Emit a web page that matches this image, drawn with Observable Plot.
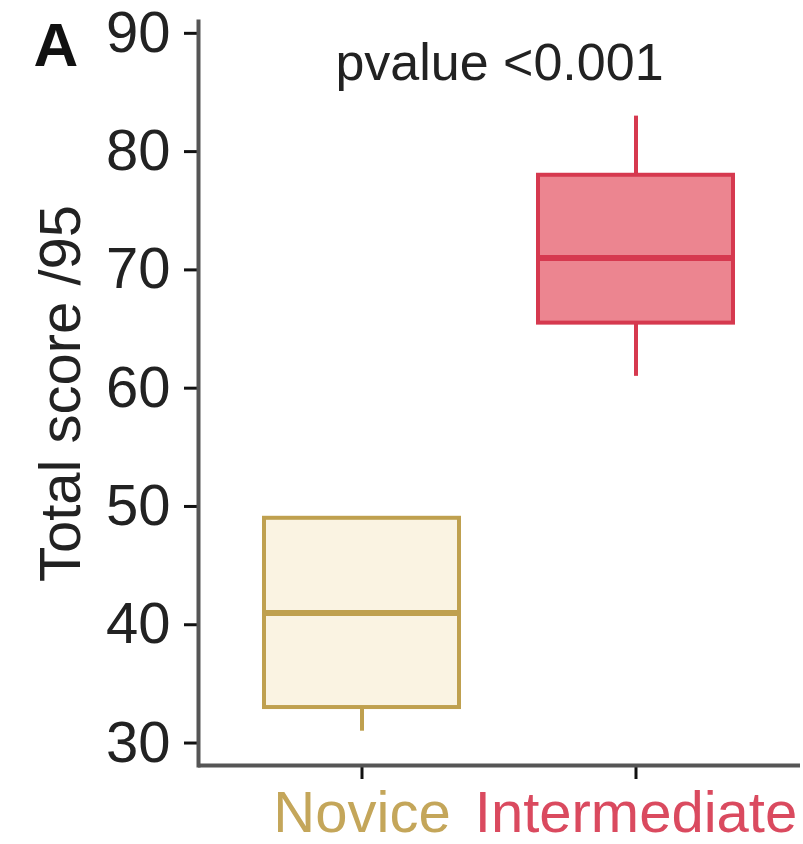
<!DOCTYPE html>
<html>
<head>
<meta charset="utf-8">
<script src="https://cdn.jsdelivr.net/npm/d3@7"></script>
<script src="https://cdn.jsdelivr.net/npm/@observablehq/plot@0.6"></script>
<style>
  html, body { margin: 0; padding: 0; background: #fff; }
</style>
</head>
<body>
<div id="chart"></div>
<script>
// ---- data ----
const groups = ["Novice", "Intermediate"];
const whiskerLow = [31, 61];
const q1 = [33, 65.5];
const medians = [41, 71];
const q3 = [49, 78];
const whiskerHigh = [49, 83];
const strokeColors = ["#BFA04F", "#D6394F"];
const fillColors = ["#FAF3E2", "#EC8590"];
const labelColors = ["#C4A65A", "#DA4A5F"];
const yTicks = [30, 40, 50, 60, 70, 80, 90];
const yDomain = [28.1, 91.0];
const titleText = "pvalue <0.001";
const yLabel = "Total score /95";
const panelTag = "A";

const rows = groups.map((g, i) => ({
  group: g, lo: whiskerLow[i], q1: q1[i], med: medians[i], q3: q3[i], hi: whiskerHigh[i],
  stroke: strokeColors[i], fill: fillColors[i], label: labelColors[i]
}));

const font = "'Liberation Sans', Arial, Helvetica, sans-serif";

const chart = Plot.plot({
  width: 803,
  height: 844,
  marginLeft: 198,
  marginRight: 3,
  marginTop: 21,
  marginBottom: 79,
  style: { fontFamily: font, fontSize: "58px", color: "#222", background: "#fff" },
  x: { type: "band", domain: groups, paddingInner: 0.288, paddingOuter: 0.2425, axis: null },
  y: { domain: yDomain, axis: null },
  marks: [
    // whiskers
    Plot.ruleX(rows, { x: "group", y1: "lo", y2: "q1", stroke: "stroke", strokeWidth: 4 }),
    Plot.ruleX(rows.filter(d => d.hi > d.q3), { x: "group", y1: "q3", y2: "hi", stroke: "stroke", strokeWidth: 4 }),
    // boxes
    Plot.barY(rows, { x: "group", y1: "q1", y2: "q3", fill: "fill", stroke: "stroke", strokeWidth: 4 }),
    // medians
    Plot.tickY(rows, { x: "group", y: "med", stroke: "stroke", strokeWidth: 6 }),
    // axes
    Plot.axisY({ ticks: yTicks, tickSize: 14, tickPadding: 14, stroke: "#111", strokeWidth: 3, fill: "#222", fontSize: 58, label: null }),
    Plot.axisX({ tickSize: 14, tickFormat: () => "", stroke: "#111", strokeWidth: 3, label: null }),
    Plot.ruleY([yDomain[0]], { stroke: "#555", strokeWidth: 4 }),
    Plot.frame({ anchor: "left", stroke: "#555", strokeWidth: 4 }),
    // x tick labels, coloured by group
    Plot.text(rows, { x: "group", text: "group", frameAnchor: "bottom", lineAnchor: "middle", dy: 48, fill: "label", fontSize: 58 }),
    // y axis title
    Plot.text([yLabel], { frameAnchor: "left", textAnchor: "middle", lineAnchor: "middle", dx: -137, rotate: -90, fontSize: 58, fill: "#222" }),
    // p-value title
    Plot.text([titleText], { frameAnchor: "top", lineAnchor: "middle", dy: 42, fontSize: 52, fill: "#222" }),
    // panel tag
    Plot.text([panelTag], { frameAnchor: "top-left", textAnchor: "start", lineAnchor: "middle", dx: -165, dy: 25, fontSize: 62, fontWeight: "bold", fill: "#111" })
  ]
});

document.getElementById("chart").appendChild(chart);
</script>
</body>
</html>
